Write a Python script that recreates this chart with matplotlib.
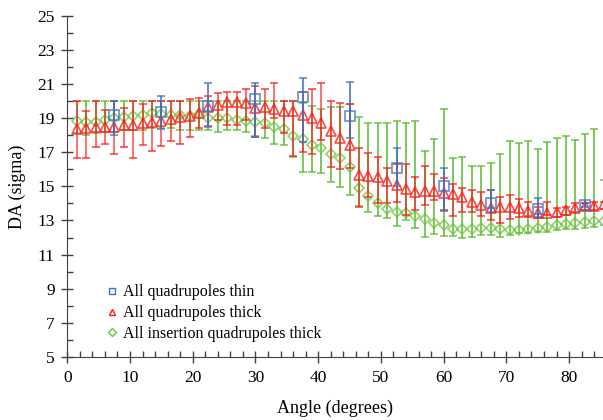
import numpy as np
import matplotlib
matplotlib.use('Agg')
import matplotlib.pyplot as plt
from matplotlib.ticker import MultipleLocator
from matplotlib.lines import Line2D

plt.rcParams['font.family'] = ['Liberation Serif', 'DejaVu Serif']

# angles (degrees)
angle = np.arange(1, 58) * 1.5
angle_thin = np.arange(1, 12) * 7.5

# all quadrupoles thick (red)
thick = [18.36, 18.44, 18.46, 18.5, 18.5, 18.6, 18.6, 18.73, 18.79, 18.85,
         18.93, 19.05, 19.12, 19.28, 19.67, 19.77, 19.92, 19.96, 19.9, 19.57,
         19.63, 19.51, 19.42, 19.42, 19.18, 19.03, 18.69, 18.25, 17.85, 17.42,
         15.67, 15.61, 15.52, 15.34, 15.08, 14.84, 14.64, 14.7, 14.73, 14.63,
         14.55, 14.36, 14.1, 13.91, 13.71, 13.81, 13.77, 13.71, 13.58, 13.42,
         13.46, 13.52, 13.62, 13.71, 13.85, 13.85, 13.97]
thick_hi = [20.0, 19.42, 20.0, 19.47, 20.0, 19.6, 20.0, 19.8, 20.0, 20.0,
            20.0, 20.0, 20.1, 20.2, 20.3, 20.45, 20.55, 20.55, 20.69, 20.88,
            20.69, 21.04, 20.0, 20.0, 20.5, 20.69, 21.04, 20.0, 19.9, 19.8,
            17.23, 16.98, 16.74, 16.06, 16.29, 16.29, 15.57, 16.19, 15.71, 15.47,
            15.12, 14.89, 14.79, 14.69, 14.79, 14.4, 14.5, 14.26, 14.1, 13.81,
            14.1, 13.71, 13.81, 14.0, 14.0, 14.1, 14.1]
thick_lo = [16.65, 16.65, 17.33, 17.46, 16.88, 17.33, 16.65, 17.42, 17.09, 17.38,
            17.66, 17.46, 17.91, 18.4, 18.54, 18.9, 18.6, 18.6, 18.9, 17.91,
            18.4, 19.0, 18.1, 16.78, 17.03, 16.9, 17.7, 16.16, 16.0, 16.1,
            13.81, 14.4, 14.0, 14.0, 14.1, 13.3, 13.6, 13.88, 14.2, 13.62,
            13.28, 13.52, 13.52, 13.27, 13.0, 12.87, 13.07, 13.2, 13.2, 13.13,
            13.32, 13.2, 13.32, 13.52, 13.6, 13.6, 13.7]

# all insertion quadrupoles thick (green)
insertion = [18.85, 18.75, 18.79, 18.89, 18.99, 19.05, 19.14, 19.18, 19.28, 19.24,
             19.2, 19.16, 19.12, 19.24, 18.99, 18.99, 18.99, 18.89, 18.85, 18.79,
             18.69, 18.5, 18.34, 17.95, 17.76, 17.42, 17.27, 16.9, 16.68, 16.16,
             14.89, 14.45, 14.01, 13.68, 13.52, 13.42, 13.27, 13.09, 12.88, 12.74,
             12.5, 12.5, 12.5, 12.58, 12.58, 12.48, 12.45, 12.45, 12.5, 12.58,
             12.6, 12.74, 12.78, 12.84, 12.89, 12.97, 12.99]
insertion_hi = [20.0] * 24 + [19.9, 19.71, 19.51, 19.65, 19.65, 19.85,
                              19.08, 18.73, 18.73, 18.73, 18.85, 18.73, 18.85, 17.09, 17.78, 19.51,
                              16.64, 16.7, 16.21, 16.21, 16.35, 16.9, 17.66, 17.52, 17.66, 17.19,
                              17.58, 17.85, 17.97, 17.72, 18.05, 18.34, 15.37]
insertion_lo = [18.1, 18.0, 18.1, 18.2, 18.2, 18.3, 18.3, 18.3, 18.4, 18.4,
                18.4, 18.3, 18.3, 18.3, 18.3, 18.2, 18.3, 18.3, 18.2, 17.95,
                17.82, 17.48, 17.42, 16.74, 15.86, 15.86, 15.76, 15.24, 14.98, 14.5,
                13.85, 13.48, 13.27, 13.13, 12.68, 13.0, 12.54, 12.02, 12.21, 12.1,
                12.1, 11.96, 12.06, 12.15, 12.15, 12.02, 12.15, 12.25, 12.28, 12.35,
                12.32, 12.45, 12.5, 12.5, 12.55, 12.64, 12.73]

# all quadrupoles thin (blue)
thin = [19.18, 19.34, 19.73, 20.12, 20.22, 19.12, 16.06, 15.04, 14.05, 13.68, 13.91]
thin_hi = [20.0, 20.32, 21.04, 21.04, 21.33, 21.1, 17.27, 16.06, 14.79, 14.3, 14.05]
thin_lo = [18.0, 18.36, 18.5, 17.9, 17.6, 17.82, 15.0, 13.58, 13.5, 13.2, 13.8]

yticks = [5, 7, 9, 11, 13, 15, 17, 19, 21, 23, 25]


def err(v, lo, hi):
    v, lo, hi = np.array(v), np.array(lo), np.array(hi)
    return [v - lo, hi - v]


fig = plt.figure(figsize=(6.03, 4.2), dpi=100)
ax = fig.add_axes([67.3 / 603, 63 / 420, 535.7 / 603, 341.3 / 420])

green = '#4cb821'
red = '#ff1a1a'
blue = '#3f6fbf'

ax.errorbar(angle, insertion, yerr=err(insertion, insertion_lo, insertion_hi),
            fmt='D', ms=5, mfc='none', mec='#6cc23a', mew=1.2,
            ecolor=green, elinewidth=1.4, capsize=3, capthick=1.4,
            alpha=0.75, zorder=2)
ax.errorbar(angle, thick, yerr=err(thick, thick_lo, thick_hi),
            fmt='^', ms=7.5, mfc='none', mec=red, mew=1.2,
            ecolor=red, elinewidth=1.1, capsize=3, capthick=1.1,
            alpha=0.8, zorder=3)
ax.errorbar(angle_thin, thin, yerr=err(thin, thin_lo, thin_hi),
            fmt='s', ms=6.5, mfc='none', mec=blue, mew=1.2,
            ecolor=blue, elinewidth=1.4, capsize=3, capthick=1.4,
            alpha=0.8, zorder=4)

ax.set_xlim(0, 85.4)
ax.set_ylim(5, 25)
ax.xaxis.set_major_locator(MultipleLocator(10))
ax.xaxis.set_minor_locator(MultipleLocator(2))
ax.set_yticks(yticks)
ax.yaxis.set_minor_locator(MultipleLocator(1))

for s in ['top', 'right']:
    ax.spines[s].set_visible(False)
for s in ['left', 'bottom']:
    ax.spines[s].set_color('#404040')

ax.tick_params(which='major', direction='inout', length=8, width=1, color='#404040',
               labelsize=12.5, pad=5)
ax.tick_params(which='minor', direction='in', length=4, width=1, color='#404040')

ax.set_xlabel('Angle (degrees)', fontsize=13, labelpad=10)
ax.set_ylabel('DA (sigma)', fontsize=13, labelpad=8)

handles = [
    Line2D([], [], ls='none', marker='s', ms=5, mfc='none', mec=blue, mew=1),
    Line2D([], [], ls='none', marker='^', ms=5, mfc='none', mec=red, mew=1),
    Line2D([], [], ls='none', marker='D', ms=4, mfc='none', mec='#6cc23a', mew=1),
]
labels = ['All quadrupoles thin', 'All quadrupoles thick', 'All insertion quadrupoles thick']
ax.legend(handles, labels, loc='upper left', bbox_to_anchor=(0.05, 0.255), frameon=False,
          fontsize=11.5, handlelength=0.5, handletextpad=0.4, labelspacing=0.3)

fig.savefig('out.png', dpi=100)
